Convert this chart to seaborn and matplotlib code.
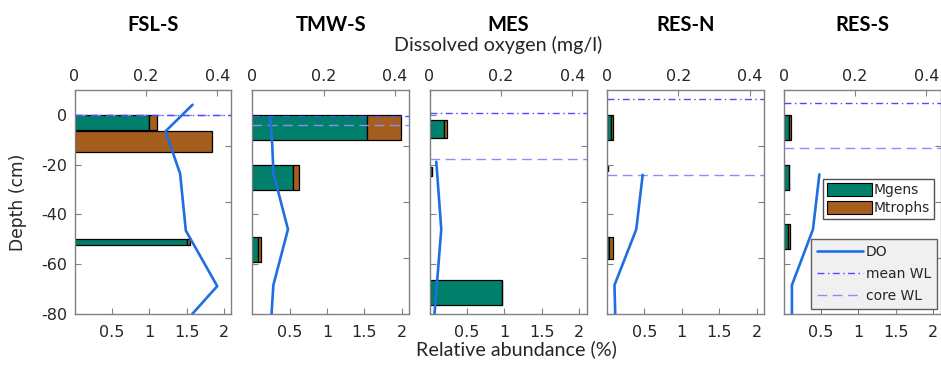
import numpy as np
import pandas as pd
import matplotlib
matplotlib.use("Agg")
import matplotlib.pyplot as plt
from matplotlib.patches import Patch
from matplotlib.lines import Line2D
import seaborn as sns

sns.set_style("white")
plt.rcParams["font.family"] = ["DejaVu Sans"]

# ---------------- data ----------------
sites = ["FSL-S", "TMW-S", "MES", "RES-N", "RES-S"]

# sampled depth intervals (cm) for the abundance bars
fsl_top = [0.0, -6.4, -49.8]
fsl_bot = [-5.9, -14.8, -52.2]
tmw_top = [0.0, -20.0, -49.0]
tmw_bot = [-10.0, -30.0, -59.0]
mes_top = [-2.2, -20.9, -66.5]
mes_bot = [-9.1, -24.7, -76.5]
resn_top = [0.0, -20.6, -49.0]
resn_bot = [-10.0, -22.6, -58.0]
ress_top = [0.0, -20.0, -43.8]
ress_bot = [-10.0, -30.0, -53.7]

# relative abundance (%)
fsl_mgens = [1.00, 0.005, 1.51]
fsl_mtrophs = [0.10, 1.83, 0.03]
tmw_mgens = [1.54, 0.55, 0.08]
tmw_mtrophs = [0.45, 0.08, 0.04]
mes_mgens = [0.20, 0.03, 0.97]
mes_mtrophs = [0.04, 0.01, 0.0]
resn_mgens = [0.05, 0.02, 0.025]
resn_mtrophs = [0.03, 0.0, 0.05]
ress_mgens = [0.07, 0.065, 0.058]
ress_mtrophs = [0.03, 0.0, 0.026]

# dissolved oxygen profiles (mg/l) and their depths (cm)
fsl_do_depth = [4.1, -6.6, -23.6, -46.5, -68.8, -80.0]
fsl_do = [0.331, 0.255, 0.296, 0.312, 0.400, 0.330]
tmw_do_depth = [-1.0, -12.2, -23.3, -46.0, -68.4, -80.0]
tmw_do = [0.050, 0.056, 0.059, 0.100, 0.059, 0.054]
mes_do_depth = [-18.8, -46.0, -80.0]
mes_do = [0.019, 0.033, 0.014]
resn_do_depth = [-24.1, -46.0, -68.4, -80.0]
resn_do = [0.100, 0.082, 0.021, 0.023]
ress_do_depth = [-23.9, -46.0, -68.4, -80.0]
ress_do = [0.100, 0.082, 0.023, 0.023]

# water levels (cm)
mean_wl = [0.0, -0.5, 0.65, 6.4, 4.7]
core_wl = [0.0, -4.2, -17.7, -24.1, -13.5]

# tick labels
abund_ticks = [0.5, 1, 1.5, 2]
do_ticks = [0, 0.2, 0.4]
depth_ticks = [-80, -60, -40, -20, 0]

panels = [
    (fsl_top, fsl_bot, fsl_mgens, fsl_mtrophs, fsl_do_depth, fsl_do),
    (tmw_top, tmw_bot, tmw_mgens, tmw_mtrophs, tmw_do_depth, tmw_do),
    (mes_top, mes_bot, mes_mgens, mes_mtrophs, mes_do_depth, mes_do),
    (resn_top, resn_bot, resn_mgens, resn_mtrophs, resn_do_depth, resn_do),
    (ress_top, ress_bot, ress_mgens, ress_mtrophs, ress_do_depth, ress_do),
]

# ---------------- style ----------------
C_MG = "#00806A"
C_MT = "#A65E1E"
C_DO = "#1F6FE3"
C_MEAN = "#4B4BFF"
C_CORE = "#8C8CFF"
SPINE = "#808080"
TXT = "#262626"
MEAN_LS = (0, (5, 2.5, 1, 2.5))
CORE_LS = (0, (7, 4))

W, H = 941, 368
fig = plt.figure(figsize=(W / 100, H / 100), dpi=100)

lefts = [74.5, 252.3, 429.5, 607.0, 783.7]
ax_w = 157.0
ax_top, ax_bot = 90.0, 314.0

TICK_FS = 11.5
for i, (site, (top, bot, mg, mt, dd, do)) in enumerate(zip(sites, panels)):
    rect = [lefts[i] / W, 1 - ax_bot / H, ax_w / W, (ax_bot - ax_top) / H]
    ax = fig.add_axes(rect)
    top_a = np.array(top)
    bot_a = np.array(bot)
    centers = (top_a + bot_a) / 2
    heights = top_a - bot_a
    mg_a = np.array(mg)
    mt_a = np.array(mt)
    ax.barh(centers, mg_a, height=heights, left=0, color=C_MG,
            edgecolor="black", linewidth=0.9, zorder=2)
    ax.barh(centers, mt_a, height=heights, left=mg_a, color=C_MT,
            edgecolor="black", linewidth=0.9, zorder=2)
    ax.set_xlim(0, 2.1)
    ax.set_ylim(-80, 10)
    ax.set_xticks(abund_ticks)
    ax.set_xticklabels(["0.5", "1", "1.5", "2"])
    ax.set_yticks(depth_ticks)
    if i == 0:
        ax.set_yticklabels([str(t) for t in depth_ticks])
    else:
        ax.set_yticklabels([])
    ax.tick_params(axis="x", direction="in", length=4, width=0.8, color=SPINE,
                   labelsize=TICK_FS, labelcolor=TXT, pad=8, top=False, bottom=True)
    ax.tick_params(axis="y", direction="in", length=4, width=0.8, color=SPINE,
                   labelsize=TICK_FS, labelcolor=TXT, pad=5, left=True, right=False)
    for s in ax.spines.values():
        s.set_color(SPINE)
        s.set_linewidth(1.0)
        s.set_visible(True)
    ax.set_xlabel("")
    ax.set_ylabel("")

    # second (DO) axes
    ax2 = fig.add_axes(rect, frameon=False, label=f"do_{i}")
    ax2.patch.set_visible(False)
    df = pd.DataFrame({"do": do, "depth": dd})
    ax2.axhline(core_wl[i], color=C_CORE, linestyle=CORE_LS,
                linewidth=1.0, zorder=3)
    ax2.axhline(mean_wl[i], color=C_MEAN, linestyle=MEAN_LS,
                linewidth=1.0, zorder=3.5)
    sns.lineplot(data=df, x="do", y="depth", sort=False, orient="y",
                 estimator=None, color=C_DO, linewidth=1.9, ax=ax2, zorder=4)
    ax2.set_xlim(0, 0.44)
    ax2.set_ylim(-80, 10)
    ax2.xaxis.tick_top()
    ax2.yaxis.tick_right()
    ax2.set_xticks(do_ticks)
    ax2.set_xticklabels(["0", "0.2", "0.4"])
    ax2.set_yticks([-12.3, -34.9, -57.4])
    ax2.set_yticklabels([])
    ax2.tick_params(axis="x", direction="in", length=4, width=0.8, color=SPINE,
                    labelsize=TICK_FS, labelcolor=TXT, pad=4.5)
    ax2.tick_params(axis="y", direction="in", length=4, width=0.8, color=SPINE)
    ax2.set_xlabel("")
    ax2.set_ylabel("")

    cx = (lefts[i] + ax_w / 2) / W
    fig.text(cx, 1 - 25 / H, site, ha="center", va="center", fontsize=14.5,
             fontweight="bold", family=["Lato", "DejaVu Sans"], color="black")

fig.text(498 / W, 1 - 45 / H, "Dissolved oxygen (mg/l)", ha="center", va="center",
         fontsize=14.2, family=["Lato", "DejaVu Sans"], color=TXT)
fig.text(516 / W, 1 - 349 / H, "Relative abundance (%)", ha="center", va="center",
         fontsize=14.2, family=["Lato", "DejaVu Sans"], color=TXT)
fig.text(18 / W, 1 - 202 / H, "Depth (cm)", ha="center", va="center",
         rotation=90, fontsize=12.3, color=TXT)

# legends
bar_handles = [Patch(facecolor=C_MG, edgecolor="black", linewidth=0.8, label="Mgens"),
               Patch(facecolor=C_MT, edgecolor="black", linewidth=0.8, label="Mtrophs")]
leg1 = fig.legend(handles=bar_handles, loc="upper right",
                  bbox_to_anchor=(934 / W, 1 - 179 / H), fontsize=10,
                  frameon=True, fancybox=False, framealpha=1, edgecolor="#505050",
                  facecolor="white", handlelength=3.2, handleheight=1.05,
                  handletextpad=0.15, borderpad=0.3, labelspacing=0.25,
                  borderaxespad=0)
leg1.get_frame().set_linewidth(1.0)
line_handles = [Line2D([], [], color=C_DO, linewidth=1.9, label="DO"),
                Line2D([], [], color=C_MEAN, linewidth=1.0,
                       linestyle=MEAN_LS, label="mean WL"),
                Line2D([], [], color=C_CORE, linewidth=1.0,
                       linestyle=CORE_LS, label="core WL")]
leg2 = fig.legend(handles=line_handles, loc="upper right",
                  bbox_to_anchor=(937 / W, 1 - 239 / H), fontsize=10,
                  frameon=True, fancybox=False, framealpha=1, edgecolor="#606060",
                  facecolor="#F0F0F0", handlelength=3.3, handletextpad=0.2,
                  borderpad=0.45, labelspacing=0.55, borderaxespad=0)
leg2.get_frame().set_linewidth(1.0)

fig.savefig("out.png", dpi=100)
